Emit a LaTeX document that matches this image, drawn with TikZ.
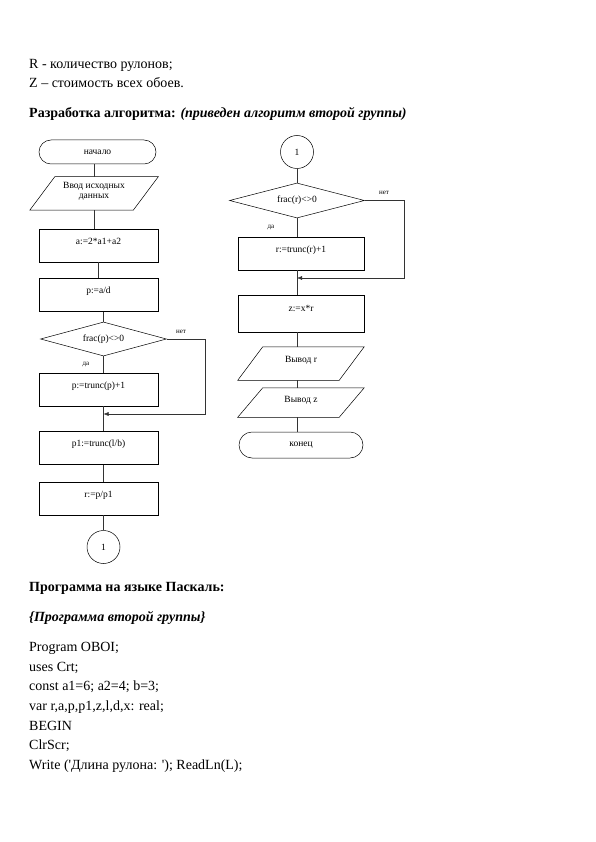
\documentclass[tikz,border=0pt]{standalone}
\usepackage{fontspec}
\setmainfont{Liberation Serif}
\usetikzlibrary{shapes.geometric,shapes.misc,arrows.meta}
\newcommand{\paraframe}[2]{%
  \draw[line width=0.5pt] ([xshift=#2]#1.north west) -- ([xshift=#2]#1.north east)
     -- ([xshift=-#2]#1.south east) -- ([xshift=-#2]#1.south west) -- cycle;}
\begin{document}
\begin{tikzpicture}[x=1pt,y=-1pt,
  txt/.style={anchor=base west, inner sep=0pt, font=\fontsize{14}{16}\selectfont},
  code/.style={txt},
  head/.style={txt},
  fl/.style={font=\fontsize{9.5}{10.5}\selectfont, align=center, line width=0.5pt},
  box/.style={fl, draw, rectangle, minimum width=119pt, minimum height=33pt, inner sep=1pt, text depth=9pt},
  term/.style={fl, draw, rounded rectangle, minimum width=119pt, minimum height=24pt, inner sep=1pt},
  io/.style={fl, rectangle, minimum width=103pt, minimum height=33pt, inner sep=1pt},
  dec/.style={fl, draw, diamond, aspect=3.7, minimum width=126pt, minimum height=34pt, inner sep=0pt},
  con/.style={fl, draw, circle, minimum size=33pt, inner sep=0pt},
  lbl/.style={font=\fontsize{7}{8}\selectfont, inner sep=0pt},
  conn/.style={draw=black!80, line width=0.5pt},
  arr/.style={conn, -{Latex[length=5pt,width=4pt]}}
]
\useasboundingbox[fill=white] (0,0) rectangle (595,842);

% top text
\node[txt] (t1) at (29,69) {R - количество рулонов;};
\node[txt] (t2) at (29,88) {Z – стоимость всех обоев.};
\node[head] (t3) at (29,118) {\textbf{Разработка алгоритма:} \textbf{\textit{(приведен алгоритм второй группы)}}};

% left flowchart
\node[term] (start) at (97.5,152) {начало};
\node[io, text depth=6pt] (in) at (94,193.5) {Ввод исходных\\данных};
\paraframe{in}{12.5pt}
\node[box] (a) at (98.5,245.5) {a:=2*a1+a2};
\node[box] (p) at (98.5,295) {p:=a/d};
\node[dec] (d1) at (103.5,339) {frac(p)<>0};
\node[box] (pt) at (98.5,389.5) {p:=trunc(p)+1};
\coordinate (j1) at (103.5,414);
\node[box] (p1) at (98.5,448) {p1:=trunc(l/b)};
\node[box] (r) at (98.5,498.5) {r:=p/p1};
\node[con] (c1) at (103.5,547) {1};
\node[lbl] (n1) at (181,332) {нет};
\node[lbl] (y1) at (86,365) {да};

\draw[conn] (start.south -| in.north) -- (in.north);
\draw[conn] (in.south) -- (in.south |- a.north);
\draw[conn] (a.south) -- (a.south |- p.north);
\draw[conn] (p.south -| d1.north) -- (d1.north);
\draw[conn] (d1.south) -- (d1.south |- pt.north);
\draw[conn] (pt.south -| d1.south) -- (d1.south |- p1.north);
\draw[arr] (d1.east) -- ++(38,0) |- (j1);
\draw[conn] (p1.south -| c1.north) -- (c1.north |- r.north);
\draw[conn] (r.south -| c1.north) -- (c1.north);

% right flowchart
\node[con] (c2) at (297,152) {1};
\node[dec, minimum width=135pt, minimum height=35pt] (d2) at (297,200.5) {frac(r)<>0};
\node[box, minimum width=126pt] (rt) at (301,253.5) {r:=trunc(r)+1};
\coordinate (j2) at (297,278);
\node[box, minimum width=126pt, minimum height=37pt, text depth=10pt] (z) at (301,313.5) {z:=x*r};
\node[io, minimum width=101pt, text depth=8pt] (or) at (301,363.5) {Вывод r};
\paraframe{or}{12.5pt}
\node[io, minimum width=101pt, minimum height=29pt, text depth=6pt] (oz) at (301,402.5) {Вывод z};
\paraframe{oz}{12.5pt}
\node[term, minimum width=126pt, minimum height=26pt] (end) at (301,445) {конец};
\node[lbl] (n2) at (384,193) {нет};
\node[lbl] (y2) at (271,228) {да};

\draw[conn] (c2.south) -- (d2.north);
\draw[conn] (d2.south) -- (d2.south |- rt.north);
\draw[conn] (rt.south -| d2.south) -- (d2.south |- z.north);
\draw[arr] (d2.east) -- ++(39,0) |- (j2);
\draw[conn] (z.south -| d2.south) -- (d2.south |- or.north);
\draw[conn] (or.south -| d2.south) -- (d2.south |- oz.north);
\draw[conn] (oz.south -| d2.south) -- (d2.south |- end.north);

% bottom text
\node[head] (b1) at (29,591) {\textbf{Программа на языке Паскаль:}};
\node[head] (b2) at (29,621) {\textbf{\textit{\{Программа второй группы\}}}};
\node[code] (b3) at (29,651) {Program OBOI;};
\node[code] (b4) at (29,671) {uses Crt;};
\node[code] (b5) at (29,690) {const a1=6; a2=4; b=3;};
\node[code] (b6) at (29,710) {var r,a,p,p1,z,l,d,x: real;};
\node[code] (b7) at (29,730) {BEGIN};
\node[code] (b8) at (29,749) {ClrScr;};
\node[code] (b9) at (29,769) {Write (\textquotesingle Длина рулона: \textquotesingle); ReadLn(L);};
\end{tikzpicture}
\end{document}
